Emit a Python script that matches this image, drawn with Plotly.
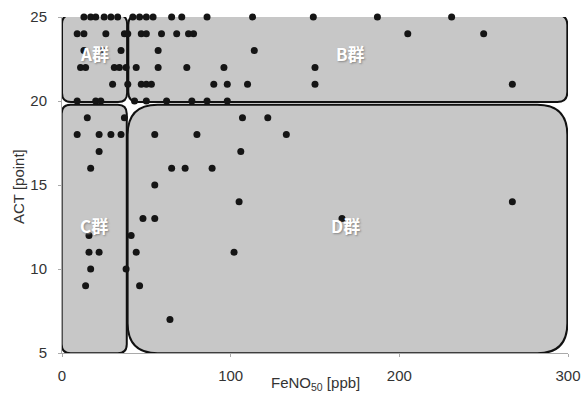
import plotly.graph_objects as go

# ACT score (y) and the FeNO50 readings (x) observed at each score
act_levels = [25, 24, 23, 22, 21, 20, 19, 18, 17, 16, 15, 14, 13, 12, 11, 10, 9, 7]
feno_by_act = [
    [13, 17, 20, 25, 29, 33, 42, 46, 50, 54, 65, 71, 86, 113, 149, 187, 231],
    [9, 13, 26, 37, 39, 47, 50, 59, 68, 75, 78, 205, 250],
    [13, 24, 35, 57, 114],
    [11, 14, 31, 34, 38, 44, 57, 74, 96, 150],
    [30, 39, 47, 50, 53, 90, 98, 110, 150, 267],
    [9, 20, 23, 43, 50, 62, 77, 86, 98],
    [15, 37, 107, 122],
    [9, 22, 29, 35, 55, 80, 133],
    [22, 106],
    [17, 65, 73, 89],
    [55],
    [105, 267],
    [48, 55, 166],
    [16, 41],
    [16, 22, 44, 102],
    [17, 38],
    [14, 46],
    [64],
]

feno = [x for xs in feno_by_act for x in xs]
act = [a for a, xs in zip(act_levels, feno_by_act) for _ in xs]

# Group regions (FeNO range, ACT range, corner radius in px, label)
groups = [
    dict(name="A群", x=(0.0, 38.6), y=(19.94, 25.12), r=9),
    dict(name="B群", x=(39.3, 299.6), y=(19.94, 25.12), r=10),
    dict(name="C群", x=(-0.2, 38.4), y=(4.98, 19.78), r=9),
    dict(name="D群", x=(38.9, 299.6), y=(4.98, 19.78), r=30),
]
label_pos = {"A群": (19, 22.8), "B群": (171, 22.8), "C群": (19, 12.6), "D群": (168, 12.6)}

X_RANGE = (0, 300)
Y_RANGE = (5, 25)
W, H = 584, 400
M = dict(l=62, r=16, t=17, b=47)
px_per_x = (W - M["l"] - M["r"]) / (X_RANGE[1] - X_RANGE[0])
px_per_y = (H - M["t"] - M["b"]) / (Y_RANGE[1] - Y_RANGE[0])


def rounded_rect(x0, x1, y0, y1, r):
    rx = r / px_per_x
    ry = r / px_per_y
    return (
        f"M {x0 + rx},{y1} L {x1 - rx},{y1} Q {x1},{y1} {x1},{y1 - ry} "
        f"L {x1},{y0 + ry} Q {x1},{y0} {x1 - rx},{y0} "
        f"L {x0 + rx},{y0} Q {x0},{y0} {x0},{y0 + ry} "
        f"L {x0},{y1 - ry} Q {x0},{y1} {x0 + rx},{y1} Z"
    )


shapes = [
    dict(
        type="path",
        xref="x",
        yref="y",
        path=rounded_rect(g["x"][0], g["x"][1], g["y"][0], g["y"][1], g["r"]),
        fillcolor="#c7c7c7",
        line=dict(color="#111111", width=2),
        layer="between",
    )
    for g in groups
]

annotations = [
    dict(
        x=label_pos[g["name"]][0],
        y=label_pos[g["name"]][1],
        xref="x",
        yref="y",
        text=f"<b>{g['name']}</b>",
        showarrow=False,
        font=dict(family="Noto Sans CJK JP", size=17, color="white", shadow="1px 1px 2px #888"),
    )
    for g in groups
]

annotations += [
    dict(
        x=(315 - M["l"]) / (W - M["l"] - M["r"]),
        y=-(384 - (H - M["b"])) / (H - M["t"] - M["b"]),
        xref="paper",
        yref="paper",
        text="FeNO<sub>50</sub> [ppb]",
        showarrow=False,
        font=dict(family="Liberation Sans", size=15, color="#333"),
        xanchor="center",
        yanchor="middle",
    ),
    dict(
        x=(18 - M["l"]) / (W - M["l"] - M["r"]),
        y=(H - M["b"] - 187) / (H - M["t"] - M["b"]),
        xref="paper",
        yref="paper",
        text="ACT [point]",
        textangle=-90,
        showarrow=False,
        font=dict(family="Liberation Sans", size=15, color="#333"),
        xanchor="center",
        yanchor="middle",
    ),
]

fig = go.Figure(
    go.Scatter(
        x=feno,
        y=act,
        mode="markers",
        marker=dict(size=7, color="#151515"),
        cliponaxis=False,
        hoverinfo="x+y",
    )
)

axis_font = dict(family="Liberation Sans", size=15, color="#333")
fig.update_layout(
    width=W,
    height=H,
    margin=M,
    paper_bgcolor="white",
    plot_bgcolor="white",
    showlegend=False,
    shapes=shapes,
    annotations=annotations,
    xaxis=dict(
        range=list(X_RANGE),
        tickvals=[0, 100, 200, 300],
        automargin=False,
        showgrid=False,
        zeroline=False,
        showline=True,
        linecolor="#aaaaaa",
        linewidth=1,
        ticks="outside",
        ticklen=3,
        tickcolor="#aaaaaa",
        ticklabelstandoff=6,
        tickfont=axis_font,
        layer="below traces",
    ),
    yaxis=dict(
        range=list(Y_RANGE),
        tickvals=[5, 10, 15, 20, 25],
        automargin=False,
        showgrid=False,
        zeroline=False,
        showline=True,
        linecolor="#aaaaaa",
        linewidth=1,
        ticks="outside",
        ticklen=3,
        tickcolor="#aaaaaa",
        ticklabelstandoff=8,
        tickfont=axis_font,
        layer="below traces",
    ),
)

fig.write_html("out.html")
